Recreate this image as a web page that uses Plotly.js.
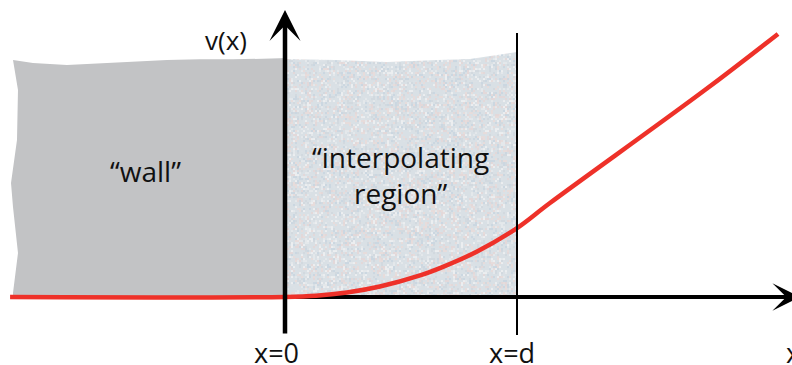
<!DOCTYPE html>
<html>
<head>
<meta charset="utf-8">
<script src="https://cdn.plot.ly/plotly-3.0.1.min.js"></script>
<style>
  html, body { margin: 0; padding: 0; background: #ffffff; overflow: hidden; }
  #chart { width: 820px; height: 365px; }
</style>
</head>
<body>
<div id="chart"></div>
<script>
// Potential v(x): zero inside the wall, smooth rise across the
// interpolating region 0 <= x <= d (d = 1), straight line afterwards.
const potentialX = [-1.185, 0, 0.134, 0.267, 0.409, 0.582, 0.681, 0.828, 1.0, 1.142, 1.810, 2.125];
const potentialV = [0, 0, 0.005, 0.019, 0.045, 0.093, 0.130, 0.196, 0.297, 0.405, 0.892, 1.134];

// Outline of the solid "wall" block (x < 0)
const wallX = [-1.1724, -1.0862, -0.9397, -0.7974, -0.6552, -0.5086, -0.3664, -0.2241, -0.0216, 0,
               0, -1.1724, -1.1724, -1.1509, -1.1724, -1.1810, -1.1552, -1.1509, -1.1724];
const wallY = [1.0216, 1.0086, 1.0000, 1.0065, 1.0129, 1.0216, 1.0244, 1.0244, 1.0287, 1.0302,
               0, 0, 0.0172, 0.1897, 0.3879, 0.4914, 0.6767, 0.8922, 1.0216];

// Outline of the interpolating region (0 <= x <= d)
const regionX = [0, 0.2241, 0.4397, 0.6552, 0.7974, 0.9138, 1.0, 1.0, 0];
const regionY = [1.0259, 1.0216, 1.0129, 1.0216, 1.0259, 1.0431, 1.0560, -0.0043, -0.0043];

// Axis marks and labels
const tickPositions = [0, 1];
const tickLabels = ['x=0', 'x=d'];
const axisLabelX = 'x';
const axisLabelV = 'v(x)';
const regionLabels = ['\u201Cwall\u201D', '\u201Cinterpolating<br>region\u201D'];

// Screen scale: both axes use the same number of pixels per unit
const PX_PER_UNIT = 232;
const X_RANGE = [-285 / PX_PER_UNIT, (820 - 285) / PX_PER_UNIT];
const Y_RANGE = [-68 / PX_PER_UNIT, 297 / PX_PER_UNIT];

const FONT = '"Open Sans", "Noto Sans", sans-serif';
const RED = '#ee3129';

// Soft speckled fill for the interpolating region, painted on a canvas
// clipped to the region outline and laid under the traces.
function regionTexture() {
  const left = Math.min(...regionX), right = Math.max(...regionX);
  const top = Math.max(...regionY), bottom = Math.min(...regionY);
  const w = Math.round((right - left) * PX_PER_UNIT);
  const h = Math.round((top - bottom) * PX_PER_UNIT);

  const grain = document.createElement('canvas');
  grain.width = w; grain.height = h;
  const g = grain.getContext('2d');
  g.fillStyle = '#d9e0e5';
  g.fillRect(0, 0, w, h);
  let seed = 12345;
  const next = () => { seed = (seed * 16807) % 2147483647; return seed / 2147483647; };
  const palette = ['#e4e8eb', '#e7dcdb', '#cbd7e1', '#d2d9df', '#eceef0', '#dbe1e6', '#e3d8d9'];
  for (let y = 0; y < h; y += 2) {
    for (let x = 0; x < w; x += 2) {
      if (next() < 0.55) {
        g.fillStyle = palette[Math.floor(next() * palette.length)];
        g.fillRect(x, y, 2, 2);
      }
    }
  }

  const c = document.createElement('canvas');
  c.width = w; c.height = h;
  const ctx = c.getContext('2d');
  ctx.beginPath();
  regionX.forEach((x, i) => {
    const px = (x - left) * PX_PER_UNIT, py = (top - regionY[i]) * PX_PER_UNIT;
    if (i === 0) ctx.moveTo(px, py); else ctx.lineTo(px, py);
  });
  ctx.closePath();
  ctx.clip();
  ctx.filter = 'blur(0.5px)';
  ctx.drawImage(grain, 0, 0);
  return { src: c.toDataURL(), x: left, y: top, sizex: right - left, sizey: top - bottom };
}

const tex = regionTexture();

const traces = [
  {
    x: wallX, y: wallY, type: 'scatter', mode: 'lines',
    fill: 'toself', fillcolor: '#c2c3c5',
    line: { width: 0, color: '#c2c3c5' }, hoverinfo: 'skip'
  },
  {
    x: potentialX, y: potentialV, type: 'scatter', mode: 'lines',
    line: { color: RED, width: 4.5, shape: 'spline', smoothing: 1 },
    hoverinfo: 'skip'
  }
];

const yTop = 287 / PX_PER_UNIT;      // arrow tip of the v axis
const yFoot = -38 / PX_PER_UNIT;     // lower end of the vertical lines
const xTip = 515 / PX_PER_UNIT;      // arrow tip of the x axis
const labelRow = -0.24;              // baseline row of the x labels

const annotations = [
  // v axis with arrowhead
  { x: 0, y: yTop, ax: 0, ay: yFoot, xref: 'x', yref: 'y', axref: 'x', ayref: 'y',
    text: '', showarrow: true, arrowhead: 3, arrowsize: 1.15, arrowwidth: 4.5, arrowcolor: '#000' },
  // arrowhead of the x axis
  { x: xTip, y: 0, ax: xTip - 0.4, ay: 0, xref: 'x', yref: 'y', axref: 'x', ayref: 'y',
    text: '', showarrow: true, arrowhead: 3, arrowsize: 1.15, arrowwidth: 4, arrowcolor: '#000' },
  { x: -0.2543, y: 1.1078, xref: 'x', yref: 'y', text: axisLabelV, showarrow: false,
    font: { family: FONT, size: 26, color: '#111' }, xanchor: 'center', yanchor: 'middle' },
  { x: tickPositions[0], y: labelRow, xshift: -8.5, xref: 'x', yref: 'y', text: tickLabels[0], showarrow: false,
    font: { family: FONT, size: 27, color: '#111' }, xanchor: 'center', yanchor: 'middle' },
  { x: tickPositions[1], y: labelRow, xshift: -5.5, xref: 'x', yref: 'y', text: tickLabels[1], showarrow: false,
    font: { family: FONT, size: 27, color: '#111' }, xanchor: 'center', yanchor: 'middle' },
  { x: 2.1487, y: labelRow, xref: 'x', yref: 'y', text: axisLabelX, showarrow: false,
    font: { family: FONT, size: 27, color: '#111' }, xanchor: 'left', yanchor: 'middle' },
  { x: -0.6013, y: 0.5431, xref: 'x', yref: 'y', text: regionLabels[0], showarrow: false,
    font: { family: FONT, size: 28, color: '#111' }, xanchor: 'center', yanchor: 'middle' },
  { x: 0.4957, y: 0.5259, xref: 'x', yref: 'y', text: regionLabels[1], showarrow: false,
    font: { family: FONT, size: 28, color: '#111' }, xanchor: 'center', yanchor: 'middle' }
];

const shapes = [
  // x axis shaft, kept under the curve
  { type: 'line', xref: 'x', yref: 'y', x0: 0, x1: xTip - 0.1, y0: 0, y1: 0,
    line: { color: '#000', width: 4 }, layer: 'between' },
  // boundary x = d
  { type: 'line', xref: 'x', yref: 'y', x0: tickPositions[1], x1: tickPositions[1],
    y0: yFoot, y1: 264 / PX_PER_UNIT, line: { color: '#000', width: 2 }, layer: 'above' }
];

const layout = {
  width: 820, height: 365,
  margin: { l: 0, r: 0, t: 0, b: 0, pad: 0 },
  paper_bgcolor: '#ffffff', plot_bgcolor: '#ffffff',
  showlegend: false,
  xaxis: { range: X_RANGE, visible: false, fixedrange: true },
  yaxis: { range: Y_RANGE, visible: false, fixedrange: true },
  images: [{
    source: tex.src, xref: 'x', yref: 'y', x: tex.x, y: tex.y,
    sizex: tex.sizex, sizey: tex.sizey, sizing: 'stretch',
    xanchor: 'left', yanchor: 'top', layer: 'below'
  }],
  shapes: shapes,
  annotations: annotations
};

Plotly.newPlot('chart', traces, layout, { staticPlot: true, displayModeBar: false });
</script>
</body>
</html>
